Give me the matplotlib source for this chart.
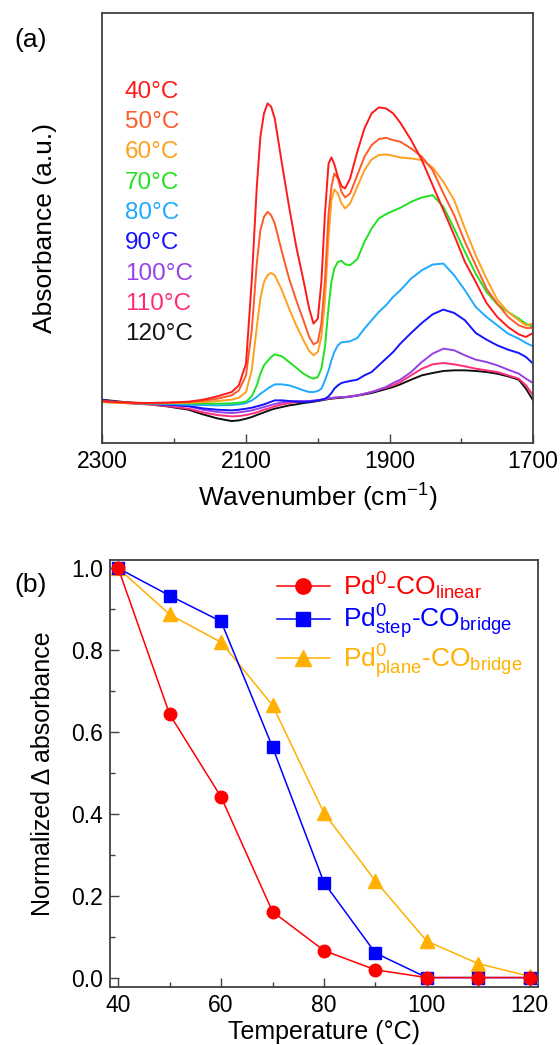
import numpy as np
import matplotlib
matplotlib.use("Agg")
import matplotlib.pyplot as plt
from matplotlib.ticker import MultipleLocator, FixedLocator
from matplotlib.lines import Line2D

plt.rcParams['font.family'] = ['Liberation Sans', 'DejaVu Sans']
plt.rcParams['mathtext.fontset'] = 'custom'
plt.rcParams['mathtext.rm'] = 'Liberation Sans'
plt.rcParams['mathtext.it'] = 'Liberation Sans:italic'
plt.rcParams['mathtext.bf'] = 'Liberation Sans:bold'

# ---- (a) DRIFT spectra, absorbance in arbitrary units ----
wavenumber = [2300, 2270, 2240, 2210, 2180, 2160, 2140, 2120, 2110, 2100,
              2092, 2085, 2080, 2075, 2070, 2065, 2060, 2050, 2040, 2030,
              2020, 2012, 2006, 2000, 1995, 1990, 1985, 1981, 1977, 1972,
              1967, 1962, 1955, 1945, 1935, 1925, 1915, 1905, 1895, 1885,
              1870, 1855, 1840, 1825, 1810, 1795, 1780, 1765, 1750, 1735,
              1720, 1710, 1700]

abs_40 = [126, 122, 120, 121, 124, 130, 140, 153, 173, 238, 488, 768, 918, 988, 1018, 1008, 973, 838, 708, 588,
          488, 403, 358, 373, 483, 688, 838, 856, 836, 798, 770, 763, 793, 873, 943, 988, 1006, 1003, 988, 960,
          908, 848, 773, 698, 623, 543, 483, 420, 378, 348, 326, 318, 330]
abs_50 = [124, 121, 120, 121, 123, 127, 133, 143, 158, 203, 338, 538, 638, 678, 693, 683, 658, 573, 493, 428,
          368, 318, 296, 303, 358, 488, 688, 768, 808, 793, 753, 736, 748, 803, 858, 893, 911, 915, 908, 903,
          883, 858, 818, 748, 683, 603, 533, 463, 418, 378, 353, 345, 345]
abs_60 = [123, 120, 119, 120, 121, 123, 126, 130, 136, 153, 218, 348, 433, 483, 503, 510, 503, 458, 403, 353,
          308, 276, 263, 273, 318, 428, 618, 728, 760, 748, 718, 703, 718, 768, 818, 850, 863, 865, 861, 856,
          853, 848, 826, 783, 728, 643, 563, 493, 430, 393, 368, 353, 358]
abs_70 = [123, 120, 119, 119, 119, 119, 118, 119, 121, 124, 140, 173, 208, 233, 246, 258, 266, 260, 243, 226,
          208, 198, 193, 198, 223, 288, 408, 483, 523, 543, 546, 536, 533, 551, 603, 643, 673, 686, 696, 705,
          723, 736, 743, 708, 643, 573, 508, 453, 416, 393, 373, 358, 348]
abs_80 = [126, 121, 119, 117, 115, 114, 113, 114, 116, 120, 128, 138, 148, 155, 163, 170, 176, 176, 173, 166,
          158, 153, 153, 156, 163, 188, 218, 248, 273, 293, 302, 303, 305, 315, 343, 368, 393, 413, 438, 458,
          493, 518, 535, 538, 503, 458, 408, 378, 353, 328, 313, 300, 290]
abs_90 = [128, 121, 118, 115, 111, 104, 100, 98, 100, 103, 106, 110, 113, 116, 120, 124, 128, 128, 126, 124,
          123, 124, 126, 128, 130, 133, 140, 150, 163, 173, 180, 183, 186, 190, 203, 213, 233, 253, 273, 298,
          330, 360, 386, 400, 390, 368, 330, 310, 293, 280, 270, 258, 238]
abs_100 = [128, 121, 118, 115, 110, 100, 93, 90, 92, 95, 98, 102, 105, 108, 111, 114, 117, 122, 125, 126,
           126, 126, 127, 128, 130, 132, 134, 135, 136, 137, 138, 138, 140, 143, 148, 153, 160, 168, 180, 190,
           213, 243, 268, 283, 278, 263, 250, 243, 233, 220, 208, 193, 180]
abs_110 = [126, 120, 116, 111, 103, 92, 84, 80, 81, 84, 88, 92, 96, 100, 103, 106, 110, 116, 120, 123,
           125, 126, 127, 128, 130, 132, 134, 135, 136, 137, 138, 138, 140, 143, 148, 153, 160, 166, 173, 183,
           203, 223, 236, 240, 236, 230, 223, 218, 213, 203, 193, 173, 143]
abs_120 = [130, 123, 118, 110, 100, 86, 74, 66, 68, 73, 78, 84, 88, 92, 96, 100, 103, 108, 113, 116,
           120, 122, 124, 126, 128, 130, 132, 133, 134, 135, 136, 137, 139, 142, 146, 150, 156, 162, 168, 176,
           190, 203, 210, 216, 218, 218, 216, 213, 208, 200, 190, 163, 128]

spec_labels = ['40°C', '50°C', '60°C', '70°C', '80°C', '90°C', '100°C', '110°C', '120°C']
spectra = [abs_40, abs_50, abs_60, abs_70, abs_80, abs_90, abs_100, abs_110, abs_120]
spec_colors = ['#ff1a1a', '#ff5a28', '#ffa01e', '#22e022', '#1eaaff',
               '#1414ff', '#9640e6', '#ff2d78', '#111111']
wn_major = [2300, 2100, 1900, 1700]
wn_minor = [2200, 2000, 1800]

# ---- (b) normalized delta absorbance ----
temperature = [40, 50, 60, 70, 80, 90, 100, 110, 120]
co_linear = [1.0, 0.643, 0.441, 0.161, 0.066, 0.019, 0.0, 0.0, 0.0]
co_step = [1.0, 0.933, 0.870, 0.563, 0.232, 0.060, 0.0, 0.0, 0.0]
co_plane = [1.0, 0.887, 0.819, 0.665, 0.402, 0.236, 0.089, 0.034, 0.003]

frame_col = '#404040'

fig = plt.figure(figsize=(5.6, 10.45), dpi=100)

# panel (a)
ax1 = fig.add_axes([0.183, 0.576, 0.769, 0.4116])
for y, c in zip(spectra[::-1], spec_colors[::-1]):
    ax1.plot(wavenumber, y, color=c, lw=1.4)
ax1.set_xlim(2300, 1700)
ax1.set_ylim(0, 1289)
ax1.set_yticks([])
ax1.xaxis.set_major_locator(FixedLocator(wn_major))
ax1.xaxis.set_minor_locator(FixedLocator(wn_minor))
ax1.tick_params(axis='x', which='major', direction='in', length=6.5, width=1,
                labelsize=16.5, pad=5, color=frame_col)
ax1.tick_params(axis='x', which='minor', direction='in', length=3.5, width=1, color=frame_col)
for s in ax1.spines.values():
    s.set_linewidth(1.3)
    s.set_color(frame_col)
ax1.set_xlabel('Wavenumber (cm$^{-1}$)', fontsize=19, labelpad=6)
ax1.set_ylabel('Absorbance (a.u.)', fontsize=19)
ax1.yaxis.set_label_coords(-0.105, 0.5)
for i, (lab, c) in enumerate(zip(spec_labels, spec_colors)):
    ax1.text(0.052, 0.817 - i * 0.0705, lab, color=c, fontsize=17.5,
             transform=ax1.transAxes, ha='left', va='center')

# panel (b)
ax2 = fig.add_axes([0.1964, 0.0555, 0.7643, 0.4086])
ax2.plot(temperature, co_plane, color='#ffb000', lw=1.1, marker='^', ms=10, zorder=3)
ax2.plot(temperature, co_step, color='#0000ff', lw=1.1, marker='s', ms=8.5, zorder=4)
ax2.plot(temperature, co_linear, color='#ff0000', lw=1.1, marker='o', ms=9, zorder=5)
ax2.set_xlim(38.4, 121.6)
ax2.set_ylim(-0.023, 1.02)
ax2.xaxis.set_major_locator(MultipleLocator(20))
ax2.xaxis.set_minor_locator(MultipleLocator(10))
ax2.yaxis.set_major_locator(MultipleLocator(0.2))
ax2.yaxis.set_minor_locator(MultipleLocator(0.1))
ax2.yaxis.set_major_formatter(matplotlib.ticker.FormatStrFormatter('%.1f'))
ax2.tick_params(which='major', direction='in', length=6.5, width=1, labelsize=16.5,
                pad=5, color=frame_col)
ax2.tick_params(which='minor', direction='in', length=3.5, width=1, color=frame_col)
for s in ax2.spines.values():
    s.set_linewidth(1.3)
    s.set_color(frame_col)
ax2.set_xlabel('Temperature (°C)', fontsize=18, labelpad=2)
ax2.set_ylabel('Normalized Δ absorbance', fontsize=18)
ax2.yaxis.set_label_coords(-0.128, 0.5)

handles = [
    Line2D([], [], color='#ff0000', lw=1.1, marker='o', ms=11),
    Line2D([], [], color='#0000ff', lw=1.1, marker='s', ms=10),
    Line2D([], [], color='#ffb000', lw=1.1, marker='^', ms=11),
]
labels = [r'Pd$^{0}$-CO$_{\mathrm{linear}}$',
          r'Pd$^{0}_{\mathrm{step}}$-CO$_{\mathrm{bridge}}$',
          r'Pd$^{0}_{\mathrm{plane}}$-CO$_{\mathrm{bridge}}$']
leg = ax2.legend(handles, labels, loc='upper left', bbox_to_anchor=(0.39, 0.975),
                 frameon=False, fontsize=19, handlelength=2.0, handletextpad=0.5,
                 labelspacing=0.02, borderpad=0, borderaxespad=0,
                 labelcolor=['#ff0000', '#0000ff', '#ffb000'])

fig.text(0.054, 0.962, '(a)', fontsize=19, ha='center', va='center')
fig.text(0.055, 0.440, '(b)', fontsize=19, ha='center', va='center')

fig.savefig('out.png', dpi=100)
